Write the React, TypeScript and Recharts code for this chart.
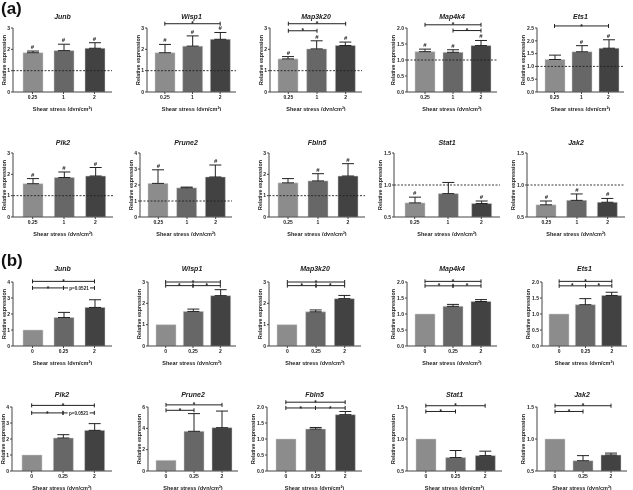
import React from 'react';
import { ComposedChart, Bar, Cell, XAxis, YAxis, ErrorBar, ReferenceLine, ReferenceDot } from 'recharts';

const genes = ['Junb', 'Wisp1', 'Map3k20', 'Map4k4', 'Ets1', 'Plk2', 'Prune2', 'Fbln5', 'Stat1', 'Jak2'];
const dosesA = ['0.25', '1', '2'];
const dosesB = ['0', '0.25', '2'];

// (a) shear stress compared with static (dashed line = 1)
const meanA = [
  [1.84, 1.94, 2.05],
  [1.84, 2.15, 2.47],
  [1.55, 2.02, 2.18],
  [1.26, 1.24, 1.45],
  [1.27, 1.57, 1.71],
  [1.56, 1.85, 1.92],
  [2.1, 1.82, 2.5],
  [1.6, 1.69, 1.92],
  [0.72, 0.865, 0.71],
  [0.69, 0.76, 0.73],
];
const errA = [
  [0.08, 0.3, 0.26],
  [0.39, 0.48, 0.32],
  [0.11, 0.38, 0.16],
  [0.08, 0.08, 0.16],
  [0.17, 0.24, 0.33],
  [0.24, 0.26, 0.4],
  [0.85, 0.05, 0.75],
  [0.2, 0.34, 0.58],
  [0.09, 0.175, 0.04],
  [0.06, 0.1, 0.06],
];
const hashA = [
  [1, 1, 1],
  [1, 1, 1],
  [1, 1, 1],
  [1, 1, 1],
  [0, 1, 1],
  [1, 1, 1],
  [1, 0, 1],
  [0, 1, 1],
  [1, 0, 1],
  [1, 1, 1],
];
const ticksA = [
  [0, 1, 2, 3],
  [0, 1, 2, 3],
  [0, 1, 2, 3],
  [0, 0.5, 1, 1.5, 2],
  [0, 0.5, 1, 1.5, 2, 2.5],
  [0, 1, 2, 3],
  [0, 1, 2, 3, 4],
  [0, 1, 2, 3],
  [0.5, 1, 1.5],
  [0.5, 1, 1.5],
];
const digitsA = [0, 0, 0, 1, 1, 0, 0, 0, 1, 1];

// (b) normalised to 0 dyn/cm2
const meanB = [
  [1, 1.78, 2.41],
  [1, 1.62, 2.36],
  [1, 1.6, 2.22],
  [1, 1.24, 1.39],
  [1, 1.29, 1.58],
  [1, 2.06, 2.54],
  [1, 3.72, 4.06],
  [1, 1.31, 1.76],
  [1, 0.71, 0.74],
  [1, 0.66, 0.75],
];
const errB = [
  [0, 0.32, 0.48],
  [0, 0.11, 0.28],
  [0, 0.09, 0.15],
  [0, 0.06, 0.06],
  [0, 0.19, 0.1],
  [0, 0.21, 0.42],
  [0, 1.66, 1.56],
  [0, 0.05, 0.1],
  [0, 0.11, 0.07],
  [0, 0.08, 0.03],
];
const ticksB = [
  [0, 1, 2, 3, 4],
  [0, 1, 2, 3],
  [0, 1, 2, 3],
  [0, 0.5, 1, 1.5, 2],
  [0, 0.5, 1, 1.5, 2],
  [0, 1, 2, 3, 4],
  [0, 2, 4, 6],
  [0, 0.5, 1, 1.5, 2],
  [0.5, 1, 1.5],
  [0.5, 1, 1.5],
];
const digitsB = [0, 0, 0, 1, 1, 0, 0, 1, 1, 1];

const bracketsA = [
  { gene: 'Wisp1', from: '0.25', to: '2', y: 3.2, text: '*' },
  { gene: 'Map3k20', from: '0.25', to: '2', y: 3.2, text: '*' },
  { gene: 'Map3k20', from: '0.25', to: '1', y: 2.87, text: '*' },
  { gene: 'Map4k4', from: '0.25', to: '2', y: 2.1, text: '*' },
  { gene: 'Map4k4', from: '1', to: '2', y: 1.92, text: '*' },
  { gene: 'Ets1', from: '0.25', to: '2', y: 2.58, text: '*' },
];
const bracketsB = [
  { gene: 'Junb', from: '0', to: '2', y: 4.04, text: '*' },
  { gene: 'Junb', from: '0', to: '0.25', y: 3.63, text: '*' },
  { gene: 'Junb', from: '0.25', to: '2', y: 3.63, text: 'p=0.0521' },
  { gene: 'Wisp1', from: '0', to: '2', y: 3.0, text: '*' },
  { gene: 'Wisp1', from: '0', to: '0.25', y: 2.83, text: '*' },
  { gene: 'Wisp1', from: '0.25', to: '2', y: 2.83, text: '*' },
  { gene: 'Map3k20', from: '0', to: '2', y: 3.0, text: '*' },
  { gene: 'Map3k20', from: '0', to: '0.25', y: 2.83, text: '*' },
  { gene: 'Map3k20', from: '0.25', to: '2', y: 2.83, text: '*' },
  { gene: 'Map4k4', from: '0', to: '2', y: 2.02, text: '*' },
  { gene: 'Map4k4', from: '0', to: '0.25', y: 1.88, text: '*' },
  { gene: 'Map4k4', from: '0.25', to: '2', y: 1.88, text: '*' },
  { gene: 'Ets1', from: '0', to: '2', y: 2.02, text: '*' },
  { gene: 'Ets1', from: '0', to: '0.25', y: 1.88, text: '*' },
  { gene: 'Ets1', from: '0.25', to: '2', y: 1.88, text: '*' },
  { gene: 'Plk2', from: '0', to: '2', y: 4.1, text: '*' },
  { gene: 'Plk2', from: '0', to: '0.25', y: 3.63, text: '*' },
  { gene: 'Plk2', from: '0.25', to: '2', y: 3.63, text: 'p=0.0521' },
  { gene: 'Prune2', from: '0', to: '2', y: 6.2, text: '*' },
  { gene: 'Prune2', from: '0', to: '0.25', y: 5.69, text: '*' },
  { gene: 'Fbln5', from: '0', to: '2', y: 2.15, text: '*' },
  { gene: 'Fbln5', from: '0', to: '0.25', y: 1.97, text: '*' },
  { gene: 'Fbln5', from: '0.25', to: '2', y: 1.97, text: '*' },
  { gene: 'Stat1', from: '0', to: '2', y: 1.52, text: '*' },
  { gene: 'Stat1', from: '0', to: '0.25', y: 1.43, text: '*' },
  { gene: 'Jak2', from: '0', to: '2', y: 1.52, text: '*' },
  { gene: 'Jak2', from: '0', to: '0.25', y: 1.43, text: '*' },
];

// layout (pixels)
const axisXA = [13, 147, 270, 407, 537, 13, 140, 269, 394, 527];
const plotWA = [99, 89, 92, 90, 87, 100, 92, 96, 106, 98];
const axisXB = [13, 148, 269, 407, 542, 12, 148, 267, 407, 537];
const plotWB = [99, 88, 92, 90, 85, 100, 90, 95, 95, 90];
const plotTopA = [28, 153];
const titleYA = [17, 142.5];
const plotTopB = [282, 407];
const titleYB = [269, 394.5];

const barFill = ['#8c8c8c', '#676767', '#424242'];
const FONT = '"Liberation Sans", Arial, sans-serif';
const INK = '#222';

const Bracket = (props: any) => {
  const { x1, y1, x2, text } = props;
  const cap = 2;
  const mid = (x1 + x2) / 2;
  const isP = text !== '*';
  return (
    <g>
      {isP ? (
        <>
          <line x1={x1} y1={y1} x2={mid - 11} y2={y1} stroke={INK} strokeWidth={1} />
          <line x1={mid + 11} y1={y1} x2={x2} y2={y1} stroke={INK} strokeWidth={1} />
        </>
      ) : (
        <line x1={x1} y1={y1} x2={x2} y2={y1} stroke={INK} strokeWidth={1} />
      )}
      <line x1={x1} y1={y1 - cap} x2={x1} y2={y1 + cap} stroke={INK} strokeWidth={1} />
      <line x1={x2} y1={y1 - cap} x2={x2} y2={y1 + cap} stroke={INK} strokeWidth={1} />
      <text
        x={mid}
        y={isP ? y1 + 1.8 : y1 + 2.6}
        textAnchor="middle"
        fontSize={isP ? 4.6 : 6.5}
        fontWeight="bold"
        fontFamily={FONT}
        fill={INK}
      >
        {text}
      </text>
    </g>
  );
};

const Hash = (props: any) => (
  <text x={props.cx} y={props.cy - 2} textAnchor="middle" fontSize={6} fontWeight="bold" fontFamily={FONT} fill={INK}>
    #
  </text>
);

type PanelProps = {
  gene: string;
  doses: string[];
  means: number[];
  errs: number[];
  hashes?: number[];
  ticks: number[];
  digits: number;
  brackets: { gene: string; from: string; to: string; y: number; text: string }[];
  dashed: boolean;
  axisX: number;
  plotW: number;
  plotTop: number;
  titleY: number;
};

const Panel = ({ gene, doses, means, errs, hashes, ticks, digits, brackets, dashed, axisX, plotW, plotTop, titleY }: PanelProps) => {
  const data = doses.map((d, i) => ({ dose: d, mean: means[i], err: errs[i] ? [0, errs[i]] : null }));
  const YW = 24;
  const MT = 26;
  const PH = 64;
  const XH = 19;
  const MR = 3;
  const gap = digits > 0 ? 14 : 9;
  return (
    <>
      <div
        style={{
          position: 'absolute',
          left: axisX,
          width: plotW,
          top: titleY - 4,
          height: 8,
          lineHeight: '8px',
          textAlign: 'center',
          fontStyle: 'italic',
          fontWeight: 'bold',
          fontSize: 7,
          fontFamily: FONT,
          color: INK,
        }}
      >
        {gene}
      </div>
      <div style={{ position: 'absolute', left: axisX - YW, top: plotTop - MT }}>
        <ComposedChart
          width={YW + plotW + MR}
          height={MT + PH + XH}
          data={data}
          margin={{ top: MT, right: MR, bottom: 0, left: 0 }}
        >
          <XAxis
            dataKey="dose"
            height={XH}
            padding={{ left: 4, right: 2 }}
            tick={{ fontSize: 5, fill: INK, fontWeight: 'bold', fontFamily: FONT }}
            tickSize={2}
            tickMargin={1}
            stroke="#444"
            label={{
              value: 'Shear stress (dyn/cm²)',
              position: 'insideBottom',
              offset: 0,
              fontSize: 5.5,
              fontWeight: 'bold',
              fill: INK,
              fontFamily: FONT,
            }}
          />
          <YAxis
            width={YW}
            type="number"
            domain={[ticks[0], ticks[ticks.length - 1]]}
            ticks={ticks}
            allowDataOverflow
            tickFormatter={(v: number) => v.toFixed(digits)}
            tick={{ fontSize: 5, fill: INK, fontWeight: 'bold', fontFamily: FONT }}
            tickSize={2}
            tickMargin={1}
            stroke="#444"
            label={{
              value: 'Relative expression',
              angle: -90,
              position: 'insideLeft',
              offset: YW - gap,
              fontSize: 5.3,
              fontWeight: 'bold',
              fill: INK,
              fontFamily: FONT,
              style: { textAnchor: 'middle' },
            }}
          />
          <Bar dataKey="mean" barSize={20} isAnimationActive={false}>
            {data.map((_, i) => (
              <Cell key={i} fill={barFill[i]} stroke="#cfcfcf" strokeWidth={0.5} />
            ))}
            <ErrorBar dataKey="err" width={6} stroke={INK} strokeWidth={1} direction="y" />
          </Bar>
          {dashed && <ReferenceLine y={1} stroke={INK} strokeWidth={0.9} strokeDasharray="2 1.5" ifOverflow="visible" />}
          {hashes &&
            doses.map((d, i) =>
              hashes[i] ? (
                <ReferenceDot key={'h' + i} x={d} y={means[i] + errs[i]} r={1} ifOverflow="visible" shape={Hash} />
              ) : null,
            )}
          {brackets
            .filter((b) => b.gene === gene)
            .map((b, i) => (
              <ReferenceLine
                key={'b' + i}
                segment={[
                  { x: b.from, y: b.y },
                  { x: b.to, y: b.y },
                ]}
                ifOverflow="visible"
                stroke={INK}
                shape={(p: any) => <Bracket {...p} text={b.text} />}
              />
            ))}
        </ComposedChart>
      </div>
    </>
  );
};

export default function App() {
  return (
    <div
      style={{
        position: 'absolute',
        left: 0,
        top: 0,
        width: 633,
        height: 490,
        background: '#fff',
        fontFamily: FONT,
        filter: 'grayscale(1)',
      }}
    >
      <div style={{ position: 'absolute', left: 1, top: -1, fontSize: 17, fontWeight: 'bold', color: '#111' }}>(a)</div>
      <div style={{ position: 'absolute', left: 1, top: 251, fontSize: 17, fontWeight: 'bold', color: '#111' }}>(b)</div>
      {genes.map((g, i) => (
        <Panel
          key={'a' + g}
          gene={g}
          doses={dosesA}
          means={meanA[i]}
          errs={errA[i]}
          hashes={hashA[i]}
          ticks={ticksA[i]}
          digits={digitsA[i]}
          brackets={bracketsA}
          dashed
          axisX={axisXA[i]}
          plotW={plotWA[i]}
          plotTop={plotTopA[Math.floor(i / 5)]}
          titleY={titleYA[Math.floor(i / 5)]}
        />
      ))}
      {genes.map((g, i) => (
        <Panel
          key={'b' + g}
          gene={g}
          doses={dosesB}
          means={meanB[i]}
          errs={errB[i]}
          ticks={ticksB[i]}
          digits={digitsB[i]}
          brackets={bracketsB}
          dashed={false}
          axisX={axisXB[i]}
          plotW={plotWB[i]}
          plotTop={plotTopB[Math.floor(i / 5)]}
          titleY={titleYB[Math.floor(i / 5)]}
        />
      ))}
    </div>
  );
}
